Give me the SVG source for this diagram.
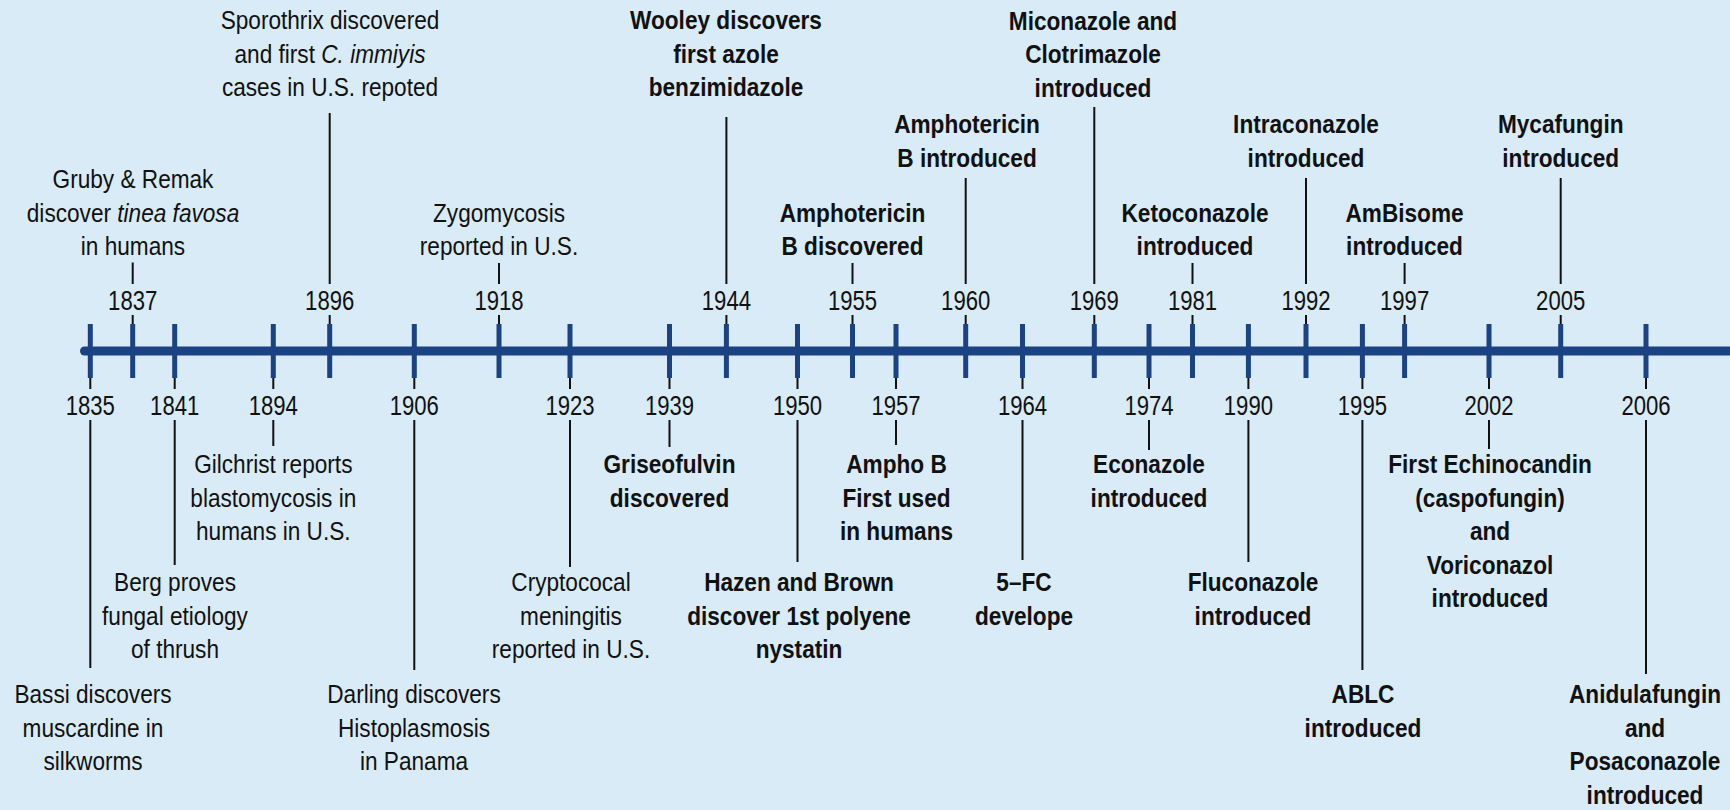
<svg xmlns="http://www.w3.org/2000/svg" width="1730" height="810" viewBox="0 0 1730 810">
<style>
text{font-family:"Liberation Sans",Arial,sans-serif;fill:#111;text-anchor:middle}
.l{font-size:25px}
.b{font-weight:bold}
.yr{font-size:28px}
.con{stroke:#111;stroke-width:2;fill:none}
.tick{stroke:#1b4282;stroke-width:5}
.axis{stroke:#1b4282;stroke-width:9;stroke-linecap:round}
.i{font-style:italic}
</style>
<rect x="0" y="0" width="1730" height="810" fill="#d8ebf7"/>

<g id="connectors">
<path class="con" d="M132.7 262.5V284M132.7 315V326"/>
<path class="con" d="M329.7 113V284M329.7 315V326"/>
<path class="con" d="M499 263V284M499 315V326"/>
<path class="con" d="M726.4 117V284M726.4 315V326"/>
<path class="con" d="M852.5 263V284M852.5 315V326"/>
<path class="con" d="M965.7 178V284M965.7 315V326"/>
<path class="con" d="M1094.3 107V284M1094.3 315V326"/>
<path class="con" d="M1192.5 263V284M1192.5 315V326"/>
<path class="con" d="M1306 178V284M1306 315V326"/>
<path class="con" d="M1404.6 263V284M1404.6 315V326"/>
<path class="con" d="M1560.7 178V284M1560.7 315V326"/>
<path class="con" d="M90.3 376V389M90.3 420V668"/>
<path class="con" d="M174.7 376V389M174.7 420V565"/>
<path class="con" d="M273.3 376V389M273.3 420V446"/>
<path class="con" d="M414.3 376V389M414.3 420V670"/>
<path class="con" d="M570 376V389M570 420V567"/>
<path class="con" d="M669.5 376V389M669.5 420V447"/>
<path class="con" d="M797.5 376V389M797.5 420V562"/>
<path class="con" d="M896 376V389M896 420V445"/>
<path class="con" d="M1022.5 376V389M1022.5 420V560"/>
<path class="con" d="M1149 376V389M1149 420V450"/>
<path class="con" d="M1248.4 376V389M1248.4 420V562"/>
<path class="con" d="M1362.4 376V389M1362.4 420V670"/>
<path class="con" d="M1489 376V389M1489 420V449"/>
<path class="con" d="M1646 376V389M1646 420V674"/>
</g>

<g id="axis">
<line class="axis" x1="84.5" y1="351" x2="1740" y2="351"/>
<g>
<line class="tick" x1="90.3" y1="324" x2="90.3" y2="378"/>
<line class="tick" x1="132.7" y1="324" x2="132.7" y2="378"/>
<line class="tick" x1="174.7" y1="324" x2="174.7" y2="378"/>
<line class="tick" x1="273.3" y1="324" x2="273.3" y2="378"/>
<line class="tick" x1="329.7" y1="324" x2="329.7" y2="378"/>
<line class="tick" x1="414.3" y1="324" x2="414.3" y2="378"/>
<line class="tick" x1="499" y1="324" x2="499" y2="378"/>
<line class="tick" x1="570" y1="324" x2="570" y2="378"/>
<line class="tick" x1="669.5" y1="324" x2="669.5" y2="378"/>
<line class="tick" x1="726.4" y1="324" x2="726.4" y2="378"/>
<line class="tick" x1="797.5" y1="324" x2="797.5" y2="378"/>
<line class="tick" x1="852.5" y1="324" x2="852.5" y2="378"/>
<line class="tick" x1="896" y1="324" x2="896" y2="378"/>
<line class="tick" x1="965.7" y1="324" x2="965.7" y2="378"/>
<line class="tick" x1="1022.5" y1="324" x2="1022.5" y2="378"/>
<line class="tick" x1="1094.3" y1="324" x2="1094.3" y2="378"/>
<line class="tick" x1="1149" y1="324" x2="1149" y2="378"/>
<line class="tick" x1="1192.5" y1="324" x2="1192.5" y2="378"/>
<line class="tick" x1="1248.4" y1="324" x2="1248.4" y2="378"/>
<line class="tick" x1="1306" y1="324" x2="1306" y2="378"/>
<line class="tick" x1="1362.4" y1="324" x2="1362.4" y2="378"/>
<line class="tick" x1="1404.6" y1="324" x2="1404.6" y2="378"/>
<line class="tick" x1="1489" y1="324" x2="1489" y2="378"/>
<line class="tick" x1="1560.7" y1="324" x2="1560.7" y2="378"/>
<line class="tick" x1="1646" y1="324" x2="1646" y2="378"/>
</g>
</g>

<g id="e1837">
<g transform="translate(132.7 0) scale(0.79 1)"><text class="yr" x="0" y="310">1837</text></g>
<g transform="translate(133 0) scale(0.905 1)"><text class="l"><tspan x="0" y="188.5">Gruby &amp; Remak</tspan><tspan x="0" y="222">discover <tspan class="i">tinea favosa</tspan></tspan><tspan x="0" y="255.5">in humans</tspan></text></g>
</g>
<g id="e1896">
<g transform="translate(329.7 0) scale(0.79 1)"><text class="yr" x="0" y="310">1896</text></g>
<g transform="translate(330 0) scale(0.905 1)"><text class="l"><tspan x="0" y="29.5">Sporothrix discovered</tspan><tspan x="0" y="63">and first <tspan class="i">C. immiyis</tspan></tspan><tspan x="0" y="96.5">cases in U.S. repoted</tspan></text></g>
</g>
<g id="e1918">
<g transform="translate(499 0) scale(0.79 1)"><text class="yr" x="0" y="310">1918</text></g>
<g transform="translate(499 0) scale(0.905 1)"><text class="l"><tspan x="0" y="222">Zygomycosis</tspan><tspan x="0" y="255.5">reported in U.S.</tspan></text></g>
</g>
<g id="e1944">
<g transform="translate(726.4 0) scale(0.79 1)"><text class="yr" x="0" y="310">1944</text></g>
<g transform="translate(726 0) scale(0.905 1)"><text class="l b"><tspan x="0" y="29.5">Wooley discovers</tspan><tspan x="0" y="63">first azole</tspan><tspan x="0" y="96.5">benzimidazole</tspan></text></g>
</g>
<g id="e1955">
<g transform="translate(852.5 0) scale(0.79 1)"><text class="yr" x="0" y="310">1955</text></g>
<g transform="translate(852.5 0) scale(0.905 1)"><text class="l b"><tspan x="0" y="222">Amphotericin</tspan><tspan x="0" y="255.5">B discovered</tspan></text></g>
</g>
<g id="e1960">
<g transform="translate(965.7 0) scale(0.79 1)"><text class="yr" x="0" y="310">1960</text></g>
<g transform="translate(967 0) scale(0.905 1)"><text class="l b"><tspan x="0" y="133.5">Amphotericin</tspan><tspan x="0" y="167">B introduced</tspan></text></g>
</g>
<g id="e1969">
<g transform="translate(1094.3 0) scale(0.79 1)"><text class="yr" x="0" y="310">1969</text></g>
<g transform="translate(1093 0) scale(0.905 1)"><text class="l b"><tspan x="0" y="30">Miconazole and</tspan><tspan x="0" y="63.5">Clotrimazole</tspan><tspan x="0" y="97">introduced</tspan></text></g>
</g>
<g id="e1981">
<g transform="translate(1192.5 0) scale(0.79 1)"><text class="yr" x="0" y="310">1981</text></g>
<g transform="translate(1195 0) scale(0.905 1)"><text class="l b"><tspan x="0" y="222">Ketoconazole</tspan><tspan x="0" y="255.5">introduced</tspan></text></g>
</g>
<g id="e1992">
<g transform="translate(1306 0) scale(0.79 1)"><text class="yr" x="0" y="310">1992</text></g>
<g transform="translate(1306 0) scale(0.905 1)"><text class="l b"><tspan x="0" y="133.5">Intraconazole</tspan><tspan x="0" y="167">introduced</tspan></text></g>
</g>
<g id="e1997">
<g transform="translate(1404.6 0) scale(0.79 1)"><text class="yr" x="0" y="310">1997</text></g>
<g transform="translate(1404.5 0) scale(0.905 1)"><text class="l b"><tspan x="0" y="222">AmBisome</tspan><tspan x="0" y="255.5">introduced</tspan></text></g>
</g>
<g id="e2005">
<g transform="translate(1560.7 0) scale(0.79 1)"><text class="yr" x="0" y="310">2005</text></g>
<g transform="translate(1560.7 0) scale(0.905 1)"><text class="l b"><tspan x="0" y="133.5">Mycafungin</tspan><tspan x="0" y="167">introduced</tspan></text></g>
</g>

<g id="e1835">
<g transform="translate(90.3 0) scale(0.79 1)"><text class="yr" x="0" y="415">1835</text></g>
<g transform="translate(93 0) scale(0.905 1)"><text class="l"><tspan x="0" y="703.5">Bassi discovers</tspan><tspan x="0" y="737">muscardine in</tspan><tspan x="0" y="770.5">silkworms</tspan></text></g>
</g>
<g id="e1841">
<g transform="translate(174.7 0) scale(0.79 1)"><text class="yr" x="0" y="415">1841</text></g>
<g transform="translate(175 0) scale(0.905 1)"><text class="l"><tspan x="0" y="591.5">Berg proves</tspan><tspan x="0" y="625">fungal etiology</tspan><tspan x="0" y="658.5">of thrush</tspan></text></g>
</g>
<g id="e1894">
<g transform="translate(273.3 0) scale(0.79 1)"><text class="yr" x="0" y="415">1894</text></g>
<g transform="translate(273.3 0) scale(0.905 1)"><text class="l"><tspan x="0" y="473.5">Gilchrist reports</tspan><tspan x="0" y="507">blastomycosis in</tspan><tspan x="0" y="540.5">humans in U.S.</tspan></text></g>
</g>
<g id="e1906">
<g transform="translate(414.3 0) scale(0.79 1)"><text class="yr" x="0" y="415">1906</text></g>
<g transform="translate(414 0) scale(0.905 1)"><text class="l"><tspan x="0" y="703.5">Darling discovers</tspan><tspan x="0" y="737">Histoplasmosis</tspan><tspan x="0" y="770.5">in Panama</tspan></text></g>
</g>
<g id="e1923">
<g transform="translate(570 0) scale(0.79 1)"><text class="yr" x="0" y="415">1923</text></g>
<g transform="translate(571 0) scale(0.905 1)"><text class="l"><tspan x="0" y="591.5">Cryptococal</tspan><tspan x="0" y="625">meningitis</tspan><tspan x="0" y="658.5">reported in U.S.</tspan></text></g>
</g>
<g id="e1939">
<g transform="translate(669.5 0) scale(0.79 1)"><text class="yr" x="0" y="415">1939</text></g>
<g transform="translate(669.5 0) scale(0.905 1)"><text class="l b"><tspan x="0" y="473.5">Griseofulvin</tspan><tspan x="0" y="507">discovered</tspan></text></g>
</g>
<g id="e1950">
<g transform="translate(797.5 0) scale(0.79 1)"><text class="yr" x="0" y="415">1950</text></g>
<g transform="translate(799 0) scale(0.905 1)"><text class="l b"><tspan x="0" y="591.5">Hazen and Brown</tspan><tspan x="0" y="625">discover 1st polyene</tspan><tspan x="0" y="658.5">nystatin</tspan></text></g>
</g>
<g id="e1957">
<g transform="translate(896 0) scale(0.79 1)"><text class="yr" x="0" y="415">1957</text></g>
<g transform="translate(896.5 0) scale(0.905 1)"><text class="l b"><tspan x="0" y="473.5">Ampho B</tspan><tspan x="0" y="507">First used</tspan><tspan x="0" y="540.5">in humans</tspan></text></g>
</g>
<g id="e1964">
<g transform="translate(1022.5 0) scale(0.79 1)"><text class="yr" x="0" y="415">1964</text></g>
<g transform="translate(1024 0) scale(0.905 1)"><text class="l b"><tspan x="0" y="591.5">5–FC</tspan><tspan x="0" y="625">develope</tspan></text></g>
</g>
<g id="e1974">
<g transform="translate(1149 0) scale(0.79 1)"><text class="yr" x="0" y="415">1974</text></g>
<g transform="translate(1149 0) scale(0.905 1)"><text class="l b"><tspan x="0" y="473.5">Econazole</tspan><tspan x="0" y="507">introduced</tspan></text></g>
</g>
<g id="e1990">
<g transform="translate(1248.4 0) scale(0.79 1)"><text class="yr" x="0" y="415">1990</text></g>
<g transform="translate(1253 0) scale(0.905 1)"><text class="l b"><tspan x="0" y="591.5">Fluconazole</tspan><tspan x="0" y="625">introduced</tspan></text></g>
</g>
<g id="e1995">
<g transform="translate(1362.4 0) scale(0.79 1)"><text class="yr" x="0" y="415">1995</text></g>
<g transform="translate(1363 0) scale(0.905 1)"><text class="l b"><tspan x="0" y="703.5">ABLC</tspan><tspan x="0" y="737">introduced</tspan></text></g>
</g>
<g id="e2002">
<g transform="translate(1489 0) scale(0.79 1)"><text class="yr" x="0" y="415">2002</text></g>
<g transform="translate(1490 0) scale(0.905 1)"><text class="l b"><tspan x="0" y="473.5">First Echinocandin</tspan><tspan x="0" y="507">(caspofungin)</tspan><tspan x="0" y="540.5">and</tspan><tspan x="0" y="574">Voriconazol</tspan><tspan x="0" y="607.5">introduced</tspan></text></g>
</g>
<g id="e2006">
<g transform="translate(1646 0) scale(0.79 1)"><text class="yr" x="0" y="415">2006</text></g>
<g transform="translate(1645 0) scale(0.905 1)"><text class="l b"><tspan x="0" y="703.5">Anidulafungin</tspan><tspan x="0" y="737">and</tspan><tspan x="0" y="770.5">Posaconazole</tspan><tspan x="0" y="804">introduced</tspan></text></g>
</g>
</svg>
